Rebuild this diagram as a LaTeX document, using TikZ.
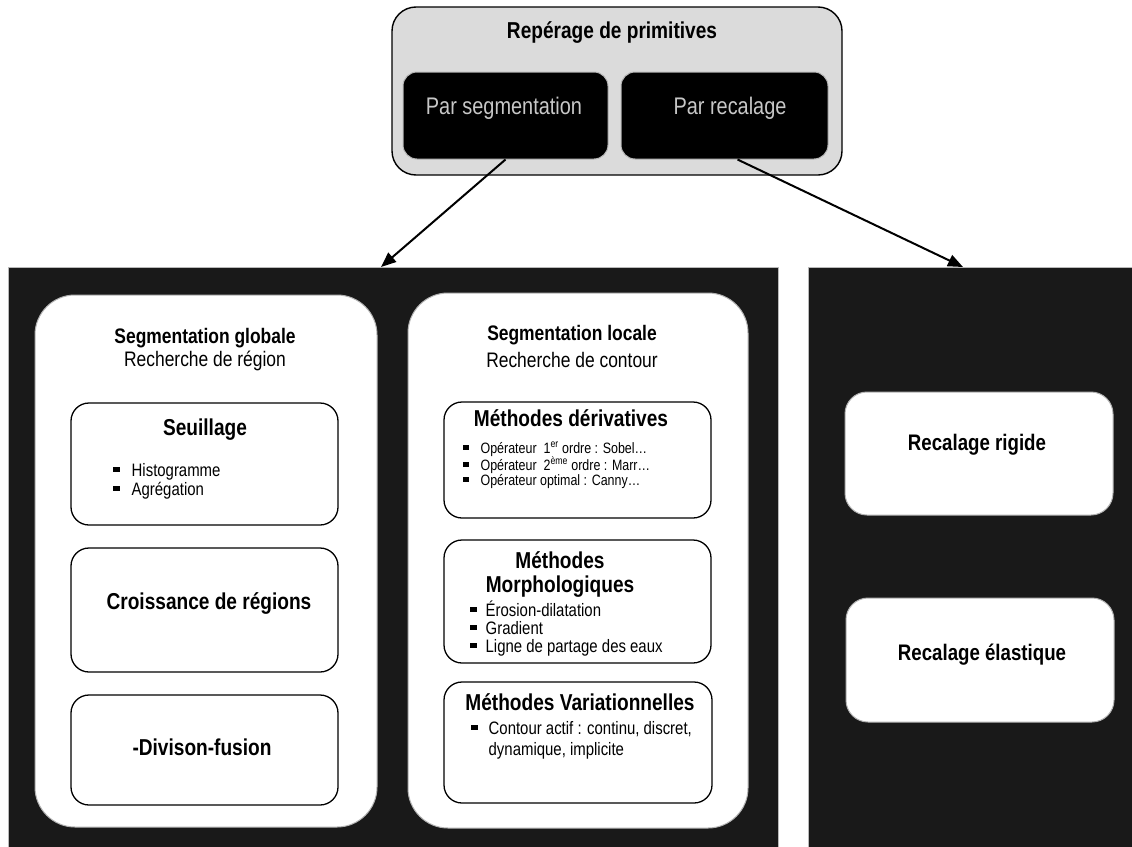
\documentclass[tikz,border=0pt]{standalone}
\usepackage{fontspec}
\setmainfont[FakeStretch=0.83]{Liberation Sans}
\usetikzlibrary{arrows.meta}
\newcommand{\bul}{\rule[0.22em]{0.36em}{0.3em}}
\begin{document}
\begin{tikzpicture}[x=1pt,y=-1pt,
  darkpanel/.style={draw=gray!55, line width=1pt, fill=black!90, rectangle, inner sep=0pt},
  whitepanel/.style={draw=gray!60, line width=1pt, fill=white, rectangle, rounded corners=40pt, inner sep=0pt},
  itembox/.style={draw=black, line width=1.3pt, fill=white, rectangle, rounded corners=18pt, inner sep=0pt},
  topbox/.style={draw=black, line width=1.4pt, fill=black!14, rectangle, rounded corners=24pt, inner sep=0pt},
  blackbox/.style={draw=gray!55, line width=1pt, fill=black, rectangle, rounded corners=14pt, inner sep=0pt},
  hd/.style={font=\fontsize{21}{24}\selectfont\bfseries, inner sep=0pt},
  sub/.style={font=\fontsize{21}{24}\selectfont, inner sep=0pt},
  ttl/.style={font=\fontsize{23}{26}\selectfont\bfseries, inner sep=0pt},
  outl/.style={font=\fontsize{24}{26}\selectfont, text=black!22, inner sep=0pt},
  lst/.style={anchor=base west, inner sep=0pt, align=left},
  arr/.style={line width=2pt, -{Triangle[length=15pt,width=12pt]}}
]
\useasboundingbox (0,0) rectangle (1132,846);
\fill[white] (0,0) rectangle (1132,846);

% top box
\node[topbox, minimum width=450, minimum height=168] (top) at (617,91) {};
\node[hd, font=\fontsize{23}{26}\selectfont\bfseries] (ttop) at (612,33) {Repérage de primitives};
\node[blackbox, minimum width=205, minimum height=87] (segbox) at (505.5,115.5) {};
\node[blackbox, minimum width=207, minimum height=87] (recbox) at (724.5,115.5) {};
\node[outl] (tseg) at (504,108) {Par segmentation};
\node[outl] (trec) at (730,108) {Par recalage};

% dark panels
\node[darkpanel, minimum width=770, minimum height=582] (leftdark) at (393,558) {};
\node[darkpanel, minimum width=328, minimum height=582] (rightdark) at (972,558) {};
\coordinate (tipL) at (381,267);
\coordinate (tipR) at (963,267);

% connectors
\draw[arr] (segbox.south) -- (tipL);
\draw[arr] ([xshift=13pt]recbox.south) -- (tipR);

% white panels
\node[whitepanel, minimum width=342, minimum height=532] (gpanel) at (206,561) {};
\node[whitepanel, minimum width=340, minimum height=535] (lpanel) at (578,560.5) {};
\node[hd] (tglob) at (205,338) {Segmentation globale};
\node[sub] (tglob2) at (205,361) {Recherche de région};
\node[hd] (tloc) at (572,335) {Segmentation locale};
\node[sub] (tloc2) at (572,360) {Recherche de contour};

% left column boxes
\node[itembox, minimum width=267, minimum height=122] (seuil) at (204.5,464) {};
\node[ttl] (tseuil) at (205,430) {Seuillage};
\node[lst, font=\fontsize{18}{19}\selectfont] (lseuil) at (113,476)
  {\begin{tabular}[t]{@{}l@{\hspace{12pt}}l@{}}\bul & Histogramme\\ \bul & Agrégation\end{tabular}};
\node[itembox, minimum width=267, minimum height=124] (crois) at (204.5,610) {};
\node[ttl] (tcrois) at (209,603) {Croissance de régions};
\node[itembox, minimum width=267, minimum height=110] (divis) at (204.5,750) {};
\node[ttl] (tdivis) at (202,747) {-Divison-fusion};

% right column boxes
\node[itembox, minimum width=267, minimum height=116] (deriv) at (577.5,460) {};
\node[ttl] (tderiv) at (571,418) {Méthodes dérivatives};
\node[lst, font=\fontsize{15}{13.5}\selectfont] (lderiv) at (463,453)
  {\begin{tabular}[t]{@{}l@{\hspace{12pt}}l@{}}\bul & Opérateur \ 1\textsuperscript{er} ordre : Sobel…\\ \bul & Opérateur \ 2\textsuperscript{ème} ordre : Marr…\\ \bul & Opérateur optimal : Canny…\end{tabular}};
\node[itembox, minimum width=267, minimum height=123] (morph) at (577.5,601.5) {};
\node[ttl] (tmorph1) at (560,560) {Méthodes};
\node[ttl] (tmorph2) at (560,587) {Morphologiques};
\node[lst, font=\fontsize{18}{17}\selectfont] (lmorph) at (470,616)
  {\begin{tabular}[t]{@{}l@{\hspace{9pt}}l@{}}\bul & Érosion-dilatation\\ \bul & Gradient\\ \bul & Ligne de partage des eaux\end{tabular}};
\node[itembox, minimum width=268, minimum height=121] (varia) at (578,742.5) {};
\node[ttl] (tvaria) at (580,702) {Méthodes Variationnelles};
\node[lst, font=\fontsize{18}{21}\selectfont] (lvaria) at (471,734)
  {\begin{tabular}[t]{@{}l@{\hspace{11pt}}l@{}}\bul & Contour actif : continu, discret,\\ & dynamique, implicite\end{tabular}};

% recalage boxes
\node[whitepanel, rounded corners=22pt, minimum width=268, minimum height=123] (rigide) at (979,453.5) {};
\node[ttl, font=\fontsize{22.5}{26}\selectfont\bfseries] (trigide) at (977,445) {Recalage rigide};
\node[whitepanel, rounded corners=22pt, minimum width=268, minimum height=124] (elast) at (980,660) {};
\node[ttl, font=\fontsize{22.5}{26}\selectfont\bfseries] (telast) at (982,655) {Recalage élastique};
\end{tikzpicture}
\end{document}
